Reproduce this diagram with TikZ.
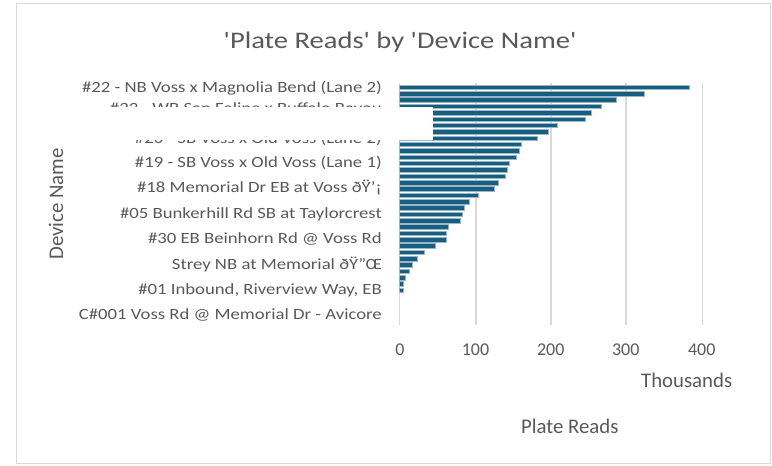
\documentclass[tikz,border=0pt]{standalone}
\usepackage{fontspec}
\setmainfont{Carlito}
\newfontfamily\widefont{Carlito}[FakeStretch=1.2]
\usetikzlibrary{positioning}
\definecolor{barblue}{RGB}{24,94,128}
\definecolor{txtgray}{RGB}{89,89,89}
\definecolor{gridgray}{RGB}{217,217,217}

\begin{document}
\begin{tikzpicture}[x=1pt,y=-1pt,
    cat/.style={anchor=base east, inner sep=0pt, text=txtgray, font=\widefont\fontsize{15.6}{18}\selectfont},
    tick/.style={anchor=base, inner sep=0pt, text=txtgray, font=\fontsize{18}{21}\selectfont},
    axtitle/.style={inner sep=0pt, text=txtgray, font=\fontsize{20.8}{24}\selectfont},
    grid/.style={draw=gridgray, line width=1.3pt},
    bar/.style={fill=barblue, draw=barblue!45, line width=0.5pt}]
  \useasboundingbox (0,0) rectangle (772,466);
  \draw[gray!30, line width=1pt] (16.5,3.5) rectangle (770.5,463.5);

  \node[anchor=base, inner sep=0pt, text=txtgray, font=\widefont\fontsize{23.8}{28}\selectfont] (title) at (400,48.5) {'Plate Reads' by 'Device Name'};

  \draw[grid] (399.3,83.3) -- (399.3,325);
  \draw[grid] (476,83.3) -- (476,325);
  \draw[grid] (551,83.3) -- (551,325);
  \draw[grid] (626,83.3) -- (626,325);
  \draw[grid] (702.7,83.3) -- (702.7,325);

  \foreach \v [count=\i] in {382.6,323.7,285.9,267,252.9,245.9,208,196.2,181.7,161.5,
      158.3,154,144.7,142.1,139.8,130.2,125.3,104.2,92.3,85.4,
      83.1,81,64.6,62,62,47.5,33.5,24.3,17.2,12.8,7.9,5.3,5.3}{
    \pgfmathsetmacro\yc{87.35+(\i-1)*6.34}
    \draw[bar] (399.3,\yc-2.3) rectangle ({399.3+0.758*\v},\yc+2.3);
  }

  \node[cat] (l1) at (382,92) {\#22 - NB Voss x Magnolia Bend (Lane 2)};
  \node[cat] (l2) at (382,113.5) {\#23 - WB San Felipe x Buffalo Bayou};
  \node[cat] (l3) at (382,143) {\#20 - SB Voss x Old Voss (Lane 2)};
  \node[cat] (l4) at (382,167) {\#19 - SB Voss x Old Voss (Lane 1)};
  \node[cat] (l5) at (382,192.5) {\#18 Memorial Dr EB at Voss ðŸ’¡};
  \node[cat] (l6) at (382,218) {\#05 Bunkerhill Rd SB at Taylorcrest};
  \node[cat] (l7) at (382,243.5) {\#30 EB Beinhorn Rd @ Voss Rd};
  \node[cat] (l8) at (382,269) {Strey NB at Memorial ðŸ”Œ};
  \node[cat] (l9) at (382,294) {\#01 Inbound, Riverview Way, EB\ };
  \node[cat] (l10) at (382,319) {C\#001 Voss Rd @ Memorial Dr - Avicore};

  \fill[white] (20,107.3) rectangle (432.7,139.7);

  \node[tick] (t0) at (400,355) {0};
  \node[tick] (t1) at (475.5,355) {100};
  \node[tick] (t2) at (550.8,355) {200};
  \node[tick] (t3) at (625.8,355) {300};
  \node[tick] (t4) at (701.7,355) {400};

  \node[axtitle, anchor=base] (units) at (686.7,387.7) {Thousands};
  \node[axtitle, anchor=base] (xtitle) at (569.7,433) {Plate Reads};
  \node[axtitle, rotate=90] (ytitle) at (56,204) {Device Name};
\end{tikzpicture}
\end{document}
